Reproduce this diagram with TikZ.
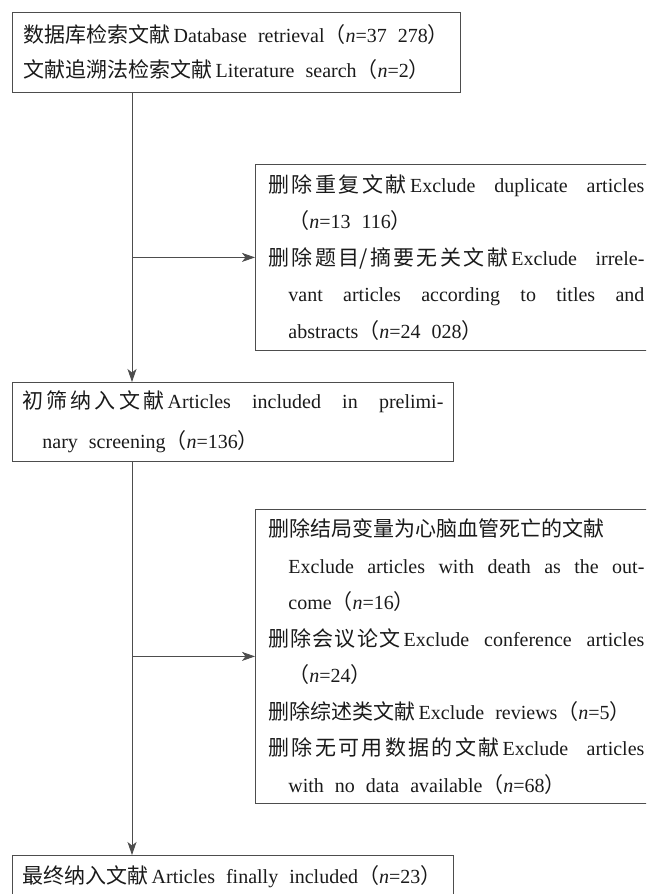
\documentclass[tikz,border=0pt]{standalone}
\usepackage{fontspec}
\setmainfont{Liberation Serif}
\newfontfamily\cjkfont{Noto Sans CJK SC}[Scale=1.05]
\usetikzlibrary{arrows.meta,positioning}
\definecolor{linegray}{HTML}{4D4D4D}
\definecolor{inkgray}{HTML}{1A1A1A}
\newcommand\zh[1]{{\cjkfont\XeTeXlinebreaklocale "zh"\XeTeXlinebreakskip=0pt plus 5pt #1}}
\newcommand\hangpar{\hangindent=1em\hangafter=1\relax}
\newcommand\boxfont[1]{\fontsize{20}{#1}\selectfont\parindent=0pt\spaceskip=0.55em plus 0.8em minus 0.05em\relax}
\tikzset{
    box/.style={draw=linegray, line width=0.8pt, rectangle, anchor=north west, align=justify, text=inkgray, inner ysep=0pt, font=\boxfont{36.5}},
    flow/.style={draw=linegray, line width=0.8pt, -{Stealth[length=13pt,width=9pt,inset=3.5pt]}},
  }
\begin{document}
\begin{tikzpicture}[x=1pt,y=-1pt]
				  \useasboundingbox (0,0) rectangle (646,894);
				  \clip (0,0) rectangle (646,894);
				  %sources
				  \node[box, text width=426pt, inner xsep=11pt, minimum height=80pt, font=\boxfont{35}] (src) at (12,12) {\mbox{\zh{数据库检索文献}\,Database retrieval\zh{（}\textit{n}=37~278\zh{）}}\par
				  \mbox{\zh{文献追溯法检索文献}\,Literature search\zh{（}\textit{n}=2\zh{）}}\par};
				  %first exclusion
				  \node[box, text width=376pt, inner xsep=13pt, minimum height=186pt] (ex1) at (255,164) {\hangpar\zh{删除重复文献}\,Exclude duplicate articles\linebreak\zh{（}\textit{n}=13~116\zh{）}\par
				  \hangpar\zh{删除题目/摘要无关文献}\,Exclude irrele-\linebreak vant articles according to titles and\linebreak abstracts\zh{（}\textit{n}=24~028\zh{）}\par};
				  %preliminary screening
				  \node[box, text width=421pt, inner xsep=10pt, minimum height=79pt, font=\boxfont{40}] (screen) at (12,382) {\hangpar\zh{初筛纳入文献}\,Articles included in prelimi-\linebreak nary screening\zh{（}\textit{n}=136\zh{）}\par};
				  %second exclusion
				  \node[box, text width=376pt, inner xsep=13pt, minimum height=294pt] (ex2) at (255,509) {\hangpar\zh{删除结局变量为心脑血管死亡的文献}\newline Exclude articles with death as the out-\linebreak come\zh{（}\textit{n}=16\zh{）}\par
				  \hangpar\zh{删除会议论文}\,Exclude conference articles\linebreak\zh{（}\textit{n}=24\zh{）}\par
				  \hangpar\zh{删除综述类文献}\,Exclude reviews\zh{（}\textit{n}=5\zh{）}\par
				  \hangpar\zh{删除无可用数据的文献}\,Exclude articles\linebreak with no data available\zh{（}\textit{n}=68\zh{）}\par};
				  %final
				  \node[box, text width=421pt, inner xsep=10pt, minimum height=42pt] (final) at (12,855) {\mbox{\zh{最终纳入文献}\,Articles finally included\zh{（}\textit{n}=23\zh{）}}\par};
				  %trunks
				  \coordinate (t1) at ([xshift=120pt]src.south west);
				  \coordinate (t2) at ([xshift=120pt]screen.south west);
				  \draw[flow] (t1) -- (t1 |- screen.north);
				  \draw[flow] (t1 |- ex1.west) -- (ex1.west);
				  \draw[flow] (t2) -- (t2 |- final.north);
				  \draw[flow] (t2 |- ex2.west) -- (ex2.west);
				  \end{tikzpicture}
\end{document}
